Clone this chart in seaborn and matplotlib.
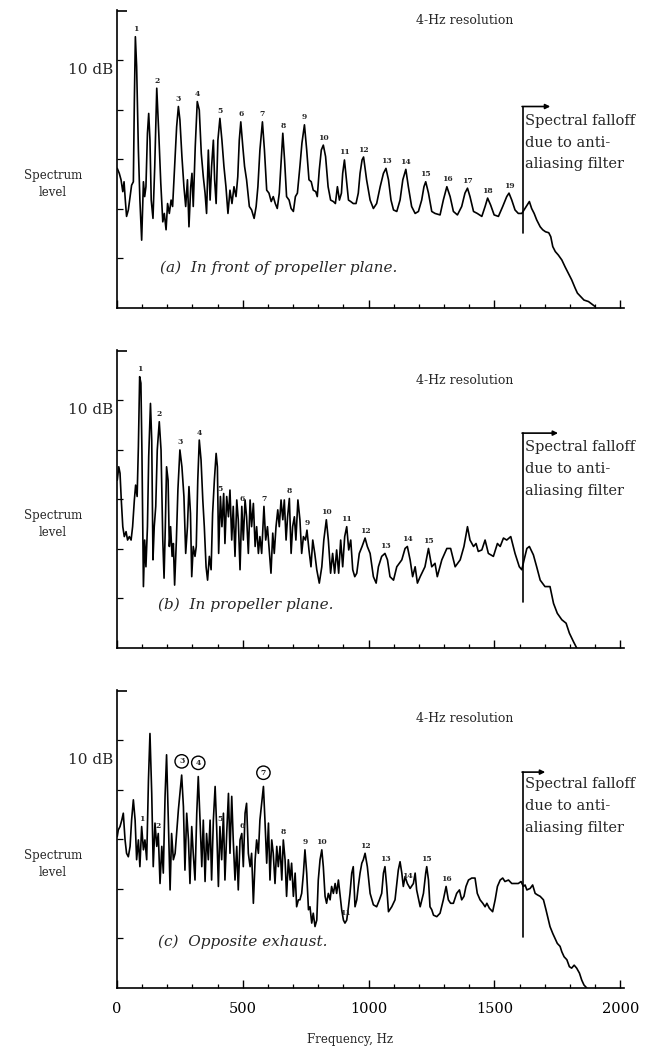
import numpy as np
import pandas as pd
import matplotlib
matplotlib.use("Agg")
import matplotlib.pyplot as plt
import matplotlib.transforms as mtransforms
import seaborn as sns

# ---------------------------------------------------------------------------
# Narrowband spectra (frequency in Hz, relative spectrum level in dB)
# ---------------------------------------------------------------------------
A_FREQ = [
    1, 9, 16, 23, 28, 33, 38, 45, 52, 58,
    65, 69, 73, 78, 85, 91, 98, 105, 110, 115,
    121, 126, 131, 136, 143, 150, 158, 166, 174, 182,
    188, 195, 201, 208, 215, 221, 229, 237, 244, 250,
    258, 266, 273, 280, 286, 293, 298, 303, 311, 319,
    327, 335, 343, 350, 356, 363, 370, 376, 383, 388,
    394, 401, 409, 417, 425, 433, 441, 449, 457, 465,
    473, 480, 486, 492, 500, 507, 515, 526, 535, 545,
    553, 560, 568, 578, 586, 595, 604, 613, 621, 629,
    637, 645, 652, 659, 666, 674, 684, 692, 701, 709,
    717, 727, 735, 745, 754, 763, 772, 780, 790, 796,
    804, 812, 820, 829, 839, 849, 860, 868, 876, 884,
    892, 897, 904, 912, 920, 929, 939, 950, 959, 966,
    974, 980, 992, 1006, 1019, 1032, 1046, 1059, 1069, 1079,
    1089, 1099, 1112, 1125, 1136, 1148, 1158, 1171, 1185, 1198,
    1211, 1220, 1227, 1238, 1251, 1264, 1284, 1297, 1311, 1324,
    1337, 1353, 1370, 1383, 1393, 1403, 1417, 1432, 1450, 1463,
    1473, 1485, 1499, 1516, 1533, 1549, 1558, 1569, 1582, 1595,
    1609, 1639, 1648, 1658, 1668, 1682, 1692, 1703, 1716, 1724,
    1732, 1742, 1754, 1768, 1781, 1794, 1807, 1821, 1830, 1843,
    1856, 1874, 1887, 1900,
]
A_LEVEL = [
    28.2, 27.2, 25.9, 23.5, 25.5, 21.8, 18.5, 19.8, 22.5, 24.8,
    25.5, 42.0, 54.8, 48.8, 31.9, 21.8, 13.7, 25.5, 22.5, 24.5,
    35.3, 39.3, 33.9, 21.8, 18.1, 28.6, 44.4, 35.3, 25.2, 17.4,
    19.1, 15.8, 21.1, 19.1, 21.8, 20.5, 28.6, 36.6, 40.7, 38.0,
    30.6, 24.5, 20.5, 25.9, 16.4, 24.5, 27.2, 20.5, 32.6, 41.7,
    40.0, 31.2, 26.5, 23.2, 19.1, 31.9, 21.8, 28.6, 33.9, 25.9,
    21.1, 33.9, 38.3, 33.9, 28.6, 24.5, 19.1, 23.8, 21.1, 24.5,
    22.5, 26.5, 33.9, 37.6, 32.6, 28.6, 25.9, 20.5, 19.8, 18.1,
    20.5, 24.5, 31.9, 37.6, 31.9, 23.8, 23.2, 21.5, 22.5, 21.1,
    20.1, 23.2, 29.2, 35.3, 29.9, 22.5, 21.8, 20.1, 19.5, 22.5,
    23.2, 28.6, 33.3, 37.0, 31.9, 25.9, 25.5, 23.8, 23.5, 22.5,
    27.9, 31.9, 32.9, 30.6, 24.5, 21.8, 21.5, 21.1, 24.5, 21.8,
    23.2, 27.2, 29.9, 25.9, 21.8, 21.5, 21.1, 21.1, 23.2, 27.2,
    29.9, 30.5, 25.9, 21.8, 20.1, 21.1, 24.5, 27.2, 28.2, 25.9,
    21.8, 19.8, 19.5, 21.8, 25.9, 28.0, 24.5, 20.5, 19.1, 19.5,
    21.8, 24.5, 25.5, 23.2, 19.5, 19.1, 18.8, 21.8, 24.5, 22.5,
    19.5, 18.8, 20.5, 23.2, 24.2, 22.5, 19.5, 19.1, 18.5, 20.5,
    22.2, 20.8, 18.8, 18.5, 20.5, 22.5, 23.2, 21.8, 19.8, 19.1,
    19.1, 21.5, 20.1, 19.1, 17.8, 16.4, 15.8, 15.4, 15.2, 14.4,
    12.4, 11.4, 10.7, 9.7, 8.3, 7.0, 5.7, 4.0, 3.0, 2.3,
    1.6, 1.3, 0.8, 0.3,
]

B_FREQ = [
    1, 7, 12, 17, 23, 29, 36, 42, 49, 56,
    62, 69, 74, 80, 85, 90, 95, 99, 105, 110,
    115, 121, 126, 133, 138, 143, 148, 154, 160, 168,
    175, 182, 187, 192, 197, 203, 208, 213, 219, 224,
    229, 236, 242, 250, 258, 266, 273, 280, 286, 292,
    297, 303, 310, 315, 321, 327, 334, 341, 347, 354,
    360, 367, 374, 380, 387, 394, 399, 404, 411, 417,
    424, 429, 436, 443, 449, 456, 462, 469, 476, 482,
    489, 496, 502, 509, 515, 522, 529, 535, 542, 549,
    555, 562, 568, 575, 584, 591, 598, 604, 612, 619,
    625, 632, 639, 645, 652, 659, 665, 672, 678, 685,
    692, 698, 705, 711, 719, 727, 734, 741, 749, 755,
    763, 771, 778, 786, 794, 804, 814, 822, 832, 840,
    849, 857, 865, 873, 881, 889, 897, 905, 913, 921,
    929, 937, 945, 953, 963, 974, 986, 995, 1006, 1019,
    1030, 1039, 1052, 1065, 1075, 1085, 1099, 1112, 1132, 1145,
    1154, 1165, 1175, 1185, 1194, 1205, 1224, 1238, 1251, 1264,
    1273, 1291, 1311, 1326, 1344, 1364, 1379, 1393, 1403, 1417,
    1427, 1436, 1450, 1463, 1476, 1496, 1512, 1523, 1536, 1549,
    1565, 1582, 1599, 1609, 1618, 1629, 1639, 1655, 1668, 1682,
    1701, 1721, 1735, 1750, 1768, 1785, 1798, 1814, 1827,
]
B_LEVEL = [
    33.9, 36.6, 35.3, 29.9, 24.5, 22.5, 23.5, 21.8, 22.5, 21.8,
    24.5, 29.9, 32.9, 30.6, 40.7, 54.8, 53.5, 40.0, 12.4, 21.8,
    16.4, 24.5, 38.7, 49.4, 42.0, 17.8, 24.5, 28.6, 40.0, 45.7,
    40.0, 21.8, 14.1, 24.5, 36.6, 33.9, 20.5, 24.5, 18.5, 21.1,
    12.7, 21.8, 31.9, 40.0, 36.6, 30.6, 19.1, 24.5, 32.6, 27.2,
    14.4, 20.5, 18.5, 20.5, 33.9, 42.0, 38.0, 29.9, 24.5, 16.4,
    13.7, 18.5, 15.8, 27.2, 33.9, 39.3, 36.6, 19.1, 30.6, 24.5,
    31.2, 21.1, 30.6, 26.5, 31.9, 21.8, 28.6, 18.5, 29.9, 25.9,
    15.8, 28.6, 21.8, 29.9, 26.5, 19.1, 29.9, 24.5, 29.2, 20.5,
    24.5, 19.1, 22.5, 19.1, 28.6, 21.8, 24.5, 20.5, 15.1, 23.2,
    19.1, 24.5, 27.9, 24.5, 29.9, 25.9, 29.9, 21.8, 26.5, 30.2,
    19.1, 24.5, 26.5, 21.8, 29.9, 25.9, 19.1, 22.5, 21.8, 23.8,
    19.8, 16.4, 21.8, 19.1, 15.8, 13.1, 16.4, 21.8, 25.9, 21.8,
    15.1, 19.1, 15.1, 19.8, 15.1, 21.8, 16.4, 22.5, 24.5, 19.8,
    21.8, 15.8, 14.4, 15.1, 19.1, 20.5, 22.2, 20.5, 19.1, 14.4,
    13.1, 16.4, 18.5, 19.1, 17.8, 14.4, 13.7, 16.4, 17.8, 20.1,
    20.5, 17.8, 14.4, 16.4, 13.1, 14.4, 16.4, 20.1, 16.4, 17.1,
    14.4, 17.8, 20.1, 20.1, 16.4, 17.8, 20.5, 24.5, 21.8, 20.5,
    21.1, 19.5, 19.8, 21.8, 19.1, 18.5, 21.1, 20.5, 22.2, 21.8,
    22.5, 19.1, 16.4, 15.8, 17.8, 20.1, 20.5, 18.8, 16.4, 13.7,
    12.4, 12.4, 9.0, 7.0, 5.7, 5.0, 3.0, 1.3, 0.0,
]

C_FREQ = [
    1, 5, 12, 19, 25, 32, 38, 45, 52, 58,
    65, 72, 78, 85, 91, 98, 105, 111, 118, 125,
    131, 138, 144, 151, 158, 164, 171, 178, 184, 191,
    197, 204, 211, 217, 224, 231, 237, 244, 250, 257,
    264, 270, 277, 284, 290, 297, 303, 310, 317, 323,
    330, 337, 343, 350, 356, 363, 370, 376, 383, 390,
    396, 403, 409, 416, 423, 429, 436, 443, 449, 456,
    462, 469, 476, 482, 489, 496, 502, 509, 515, 522,
    529, 535, 542, 549, 555, 562, 568, 575, 582, 588,
    595, 602, 608, 615, 621, 628, 635, 641, 648, 655,
    661, 668, 674, 681, 688, 694, 701, 708, 714, 721,
    727, 734, 741, 747, 754, 761, 767, 774, 780, 787,
    794, 800, 807, 814, 820, 827, 833, 840, 847, 853,
    860, 867, 873, 880, 886, 893, 900, 906, 913, 920,
    926, 933, 939, 946, 953, 959, 966, 973, 979, 986,
    995, 1006, 1019, 1032, 1043, 1052, 1059, 1065, 1072, 1079,
    1092, 1105, 1118, 1125, 1132, 1138, 1145, 1154, 1165, 1178,
    1185, 1191, 1205, 1218, 1227, 1231, 1238, 1244, 1251, 1258,
    1271, 1284, 1297, 1308, 1317, 1326, 1337, 1350, 1361, 1370,
    1379, 1387, 1397, 1410, 1423, 1432, 1443, 1454, 1463, 1470,
    1480, 1493, 1503, 1512, 1523, 1533, 1542, 1556, 1569, 1582,
    1595, 1606, 1615, 1622, 1629, 1642, 1652, 1662, 1671, 1682,
    1695, 1705, 1715, 1721, 1732, 1741, 1750, 1761, 1768, 1777,
    1788, 1798, 1807, 1817, 1827, 1838, 1847, 1856, 1867,
]
C_LEVEL = [
    30.6, 31.9, 32.6, 33.9, 35.3, 29.9, 27.2, 26.5, 28.6, 33.9,
    38.0, 33.9, 25.9, 29.9, 24.5, 32.6, 27.9, 29.9, 25.9, 42.0,
    51.4, 39.3, 24.5, 33.3, 28.6, 31.2, 21.1, 28.6, 23.2, 38.7,
    47.1, 33.9, 19.8, 31.2, 25.9, 27.2, 31.2, 36.0, 39.3, 43.0,
    36.6, 23.8, 35.3, 29.9, 21.1, 32.6, 27.2, 21.8, 35.3, 42.7,
    33.9, 24.5, 33.9, 21.5, 31.2, 25.9, 33.9, 21.8, 33.9, 40.7,
    32.6, 20.5, 32.6, 25.9, 35.3, 21.8, 31.2, 39.3, 27.2, 38.7,
    29.9, 21.8, 28.6, 19.8, 29.9, 31.2, 24.5, 35.3, 37.3, 27.2,
    24.5, 27.2, 17.1, 25.9, 29.9, 27.2, 33.9, 37.3, 40.7, 33.9,
    25.2, 33.3, 21.8, 29.9, 27.2, 21.1, 28.6, 24.5, 28.6, 21.8,
    29.9, 25.9, 18.5, 25.9, 21.8, 25.2, 18.5, 23.2, 16.4, 17.8,
    17.8, 19.1, 23.2, 27.9, 23.2, 15.8, 16.4, 13.1, 15.1, 12.4,
    13.7, 21.8, 25.9, 27.9, 24.5, 18.5, 17.1, 19.1, 17.8, 20.5,
    19.1, 21.1, 19.1, 21.8, 19.1, 15.8, 13.7, 13.1, 13.7, 16.4,
    19.1, 23.2, 24.5, 16.4, 17.8, 20.5, 23.2, 25.2, 25.9, 27.2,
    24.5, 19.1, 16.8, 16.4, 17.8, 19.1, 23.2, 24.5, 20.5, 15.4,
    16.4, 17.8, 23.8, 25.5, 23.2, 20.5, 22.5, 21.1, 20.1, 21.1,
    23.2, 19.8, 16.4, 19.1, 23.2, 24.5, 21.8, 16.4, 15.8, 14.7,
    14.4, 15.1, 17.8, 20.5, 17.8, 17.1, 17.1, 19.1, 19.8, 17.8,
    18.5, 20.5, 21.8, 22.2, 22.2, 19.1, 17.8, 17.1, 16.4, 17.1,
    16.1, 15.4, 17.8, 20.5, 21.8, 22.2, 21.5, 21.8, 21.1, 21.1,
    21.1, 21.5, 20.5, 20.8, 19.8, 20.1, 20.8, 19.1, 18.8, 18.5,
    17.8, 15.8, 13.7, 12.4, 11.0, 10.0, 9.0, 8.4, 7.3, 6.3,
    5.7, 4.3, 4.0, 4.6, 4.0, 3.0, 1.6, 0.6, 0.0,
]

# Harmonic numbers and the frequencies at which they are marked
A_HARM = list(range(1, 20))
A_HARM_HZ = [73, 158, 244, 319, 409, 492, 578, 659, 745, 820,
             904, 980, 1069, 1148, 1227, 1311, 1393, 1473, 1558]
B_HARM = list(range(1, 16))
B_HARM_HZ = [90, 168, 250, 327, 411, 496, 584, 685, 755, 832,
             913, 986, 1065, 1154, 1238]
C_HARM = list(range(1, 17))
C_HARM_HZ = [98, 164, 257, 323, 409, 496, 582, 661, 747, 814,
             906, 986, 1065, 1154, 1231, 1308]
C_CIRCLED = [3, 4, 7]

CAPTIONS = ["(a)  In front of propeller plane.",
            "(b)  In propeller plane.",
            "(c)  Opposite exhaust."]
FILTER_NOTE = ["Spectral falloff", "due to anti-", "aliasing filter"]
X_TICKS = [0, 500, 1000, 1500, 2000]
CUTOFF_HZ = 1612

# ---------------------------------------------------------------------------
sns.set_style("white")
plt.rcParams["font.family"] = ["DejaVu Serif", "DejaVu Sans"]
plt.rcParams["axes.linewidth"] = 1.2

fig = plt.figure(figsize=(6.45, 10.49), dpi=100)

LEFT, WIDTH, HEIGHT = 0.1814, 0.786, 0.2841
BOTTOMS = [0.7064, 0.3823, 0.0582]

panel_specs = [
    dict(freq=A_FREQ, level=A_LEVEL, harm=A_HARM, harm_hz=A_HARM_HZ, circled=[],
         res_y=58.0, db_y=48.0, br=(15.1, 40.7, 1722), note_y=(37.8, 33.4, 29.0),
         cap_xy=(171, 8.2)),
    dict(freq=B_FREQ, level=B_LEVEL, harm=B_HARM, harm_hz=B_HARM_HZ, circled=[],
         res_y=54.0, db_y=48.0, br=(9.3, 43.4, 1753), note_y=(40.6, 36.2, 31.8),
         cap_xy=(163, 8.7)),
    dict(freq=C_FREQ, level=C_LEVEL, harm=C_HARM, harm_hz=C_HARM_HZ, circled=C_CIRCLED,
         res_y=54.5, db_y=46.0, br=(10.3, 43.6, 1702), note_y=(41.2, 36.8, 32.4),
         cap_xy=(163, 9.3)),
]


def local_peak(freq, level, f0, win=7):
    f = np.asarray(freq, float)
    l = np.asarray(level, float)
    m = np.abs(f - f0) <= win
    return l[m].max() if m.any() else float(np.interp(f0, f, l))


for i, spec in enumerate(panel_specs):
    ax = fig.add_axes([LEFT, BOTTOMS[i], WIDTH, HEIGHT])
    df = pd.DataFrame({"freq": spec["freq"], "level": spec["level"]})
    sns.lineplot(data=df, x="freq", y="level", ax=ax, color="black",
                 lw=1.2, estimator=None, sort=False)
    ax.set_xlim(0, 2015)
    ax.set_ylim(0, 60.2)
    ax.set_xlabel("")
    ax.set_ylabel("")
    for side in ("top", "right"):
        ax.spines[side].set_visible(False)
    for side in ("left", "bottom"):
        ax.spines[side].set_color("black")
        ax.spines[side].set_linewidth(1.2)

    # axis ticks: inward marks, labels only on the lowest panel
    ax.set_xticks(X_TICKS)
    ax.set_xticks(np.arange(100, 2000, 100), minor=True)
    ax.set_yticks([60])
    ax.set_yticks([10, 20, 30, 40, 50], minor=True)
    ax.tick_params(axis="x", which="major", direction="in", length=6, width=1.0,
                   colors="black", labelsize=10.5, pad=10, bottom=True)
    ax.tick_params(axis="x", which="minor", direction="in", length=3, width=0.9,
                   colors="black", bottom=True)
    ax.tick_params(axis="y", which="major", direction="in", length=7, width=1.2,
                   colors="black", left=True, labelleft=False)
    ax.tick_params(axis="y", which="minor", direction="in", length=4, width=0.9,
                   colors="black", left=True)
    if i < 2:
        ax.tick_params(axis="x", labelbottom=False)

    trans = mtransforms.blended_transform_factory(ax.transAxes, ax.transData)
    ax.text(-0.008, spec["db_y"], "10 dB", transform=trans, ha="right",
            va="center", fontsize=11)
    ax.text(-0.126, 25.0, "Spectrum\nlevel", transform=trans, ha="center",
            va="center", fontsize=8.5, linespacing=1.35)
    ax.text(1380, spec["res_y"], "4-Hz resolution", ha="center", va="center", fontsize=9)

    # harmonic numbers
    for n, f0 in zip(spec["harm"], spec["harm_hz"]):
        y0 = local_peak(spec["freq"], spec["level"], f0)
        if n in spec["circled"]:
            ax.annotate(str(n), xy=(f0, y0), xytext=(0, 7), textcoords="offset points",
                        ha="center", va="bottom", fontsize=5.5, fontweight="bold",
                        bbox=dict(boxstyle="circle,pad=0.35", fc="white", ec="black", lw=1.0))
        else:
            ax.annotate(str(n), xy=(f0, y0), xytext=(0, 2.5), textcoords="offset points",
                        ha="center", va="bottom", fontsize=5.5, fontweight="bold")

    # anti-aliasing cutoff bracket
    y_lo, y_hi, x_end = spec["br"]
    ax.plot([CUTOFF_HZ, CUTOFF_HZ], [y_lo, y_hi], color="black", lw=1.2)
    ax.annotate("", xy=(x_end, y_hi), xytext=(CUTOFF_HZ - 2, y_hi),
                arrowprops=dict(arrowstyle="-|>", color="black", lw=1.2,
                                mutation_scale=7, shrinkA=0, shrinkB=0))
    for line, yy in zip(FILTER_NOTE, spec["note_y"]):
        ax.text(CUTOFF_HZ + 10, yy, line, ha="left", va="center", fontsize=10.5)

    cx, cy = spec["cap_xy"]
    ax.text(cx, cy, CAPTIONS[i], ha="left", va="center", fontsize=11, style="italic")

    if i == 2:
        ax.set_xlabel("Frequency, Hz", fontsize=8.5)
        ax.xaxis.set_label_coords(0.46, -0.15)

fig.savefig("out.png", dpi=100, facecolor="white")
